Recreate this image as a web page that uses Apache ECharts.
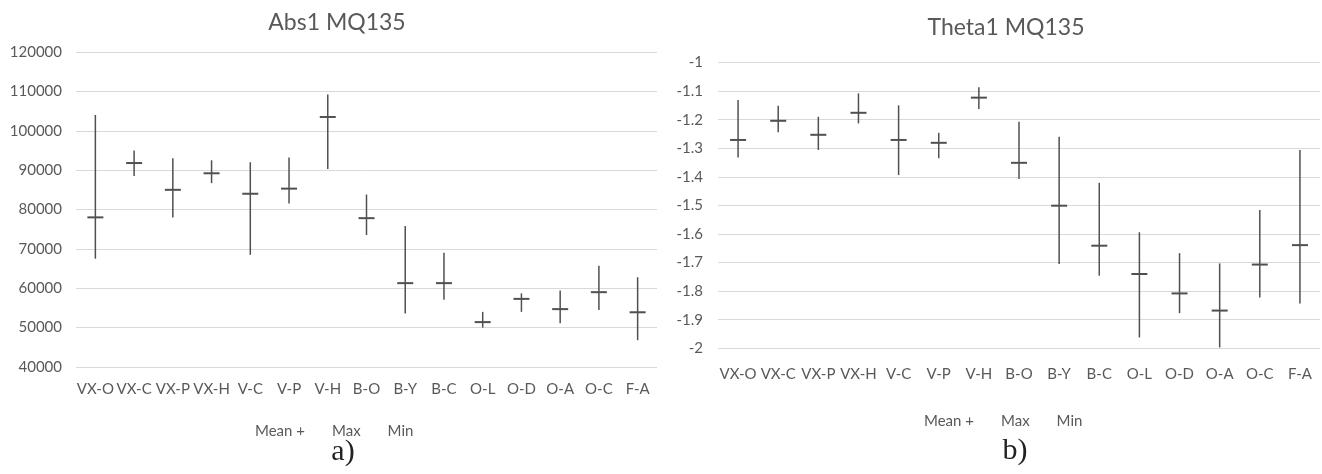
<!DOCTYPE html>
<html>
<head>
<meta charset="utf-8">
<script src="https://cdn.jsdelivr.net/npm/echarts@6/dist/echarts.min.js"></script>
<style>
html,body{margin:0;padding:0;background:#fff;}
#chart{width:1322px;height:474px;}
</style>
</head>
<body>
<div id="chart"></div>
<script>
// ---- data ----
const categories = ['VX-O','VX-C','VX-P','VX-H','V-C','V-P','V-H','B-O','B-Y','B-C','O-L','O-D','O-A','O-C','F-A'];
const absMean = [78000, 91800, 85000, 89200, 84000, 85300, 103500, 77800, 61300, 61300, 51400, 57300, 54700, 59000, 53900];
const absMax  = [104000, 95000, 93000, 92500, 92000, 93200, 109200, 83800, 75800, 69000, 54000, 58700, 59400, 65700, 62800];
const absMin  = [67500, 88500, 78000, 86700, 68500, 81500, 90300, 73500, 53600, 57100, 50000, 54000, 51100, 54500, 46800];
const thetaMean = [-1.271, -1.204, -1.253, -1.176, -1.271, -1.281, -1.123, -1.351, -1.501, -1.641, -1.740, -1.808, -1.868, -1.707, -1.639];
const thetaMax  = [-1.131, -1.151, -1.190, -1.108, -1.150, -1.246, -1.087, -1.207, -1.260, -1.421, -1.594, -1.667, -1.703, -1.516, -1.306];
const thetaMin  = [-1.332, -1.244, -1.306, -1.213, -1.394, -1.335, -1.163, -1.408, -1.705, -1.746, -1.962, -1.877, -1.997, -1.822, -1.843];
const legendNames = ['Mean +', 'Max', 'Min'];
const titles = ['Abs1 MQ135', 'Theta1 MQ135'];
const panelLabels = ['a)', 'b)'];

// ---- styles ----
const FONT = 'Lato';
const TXT = '#595959';
const GRID = '#d9d9d9';
const MARK = '#505050';

function meanTick(params, api) {
  const p = api.coord([api.value(0), api.value(1)]);
  return { type: 'line', shape: { x1: p[0] - 8, y1: p[1], x2: p[0] + 8, y2: p[1] },
           style: { stroke: MARK, lineWidth: 2 } };
}
function rangeLine(params, api) {
  const a = api.coord([api.value(0), api.value(1)]);
  const b = api.coord([api.value(0), api.value(2)]);
  return { type: 'line', shape: { x1: a[0], y1: a[1], x2: b[0], y2: b[1] },
           style: { stroke: MARK, lineWidth: 1.5 } };
}

function panelSeries(idx, mean, max, min) {
  return [
    { name: legendNames[0], type: 'custom', xAxisIndex: idx, yAxisIndex: idx,
      renderItem: meanTick, encode: { x: 0, y: 1 }, z: 3,
      data: categories.map((c, i) => [i, mean[i]]) },
    { name: legendNames[1], type: 'custom', xAxisIndex: idx, yAxisIndex: idx,
      renderItem: rangeLine, encode: { x: 0, y: [1, 2] },
      data: categories.map((c, i) => [i, mean[i], max[i]]) },
    { name: legendNames[2], type: 'custom', xAxisIndex: idx, yAxisIndex: idx,
      renderItem: rangeLine, encode: { x: 0, y: [1, 2] },
      data: categories.map((c, i) => [i, mean[i], min[i]]) }
  ];
}

function xAxisCfg(gridIndex, margin) {
  return {
    type: 'category', gridIndex, data: categories, boundaryGap: true,
    axisLine: { show: false }, axisTick: { show: false },
    axisLabel: { color: TXT, fontFamily: FONT, fontSize: 15, margin, interval: 0 },
    splitLine: { show: false }
  };
}
function yAxisCfg(gridIndex, min, max, interval, margin) {
  return {
    type: 'value', gridIndex, min, max, interval,
    axisLine: { show: false }, axisTick: { show: false },
    axisLabel: { color: TXT, fontFamily: FONT, fontSize: 15, margin,
                 formatter: v => String(v) },
    splitLine: { show: true, lineStyle: { color: GRID, width: 1 } }
  };
}
function legendCfg(left, top) {
  return {
    data: legendNames, left, top, orient: 'horizontal',
    icon: 'none', itemWidth: 0, itemHeight: 14, itemGap: 22,
    selectedMode: false,
    textStyle: { color: TXT, fontFamily: FONT, fontSize: 15 }
  };
}

const chart = echarts.init(document.getElementById('chart'), null, { renderer: 'canvas' });
chart.setOption({
  animation: false,
  backgroundColor: '#fff',
  grid: [
    { left: 76, right: 665, top: 52, bottom: 107 },
    { left: 718, right: 2, top: 62.5, bottom: 125.7 }
  ],
  xAxis: [xAxisCfg(0, 15), xAxisCfg(1, 18)],
  yAxis: [yAxisCfg(0, 40000, 120000, 10000, 14), yAxisCfg(1, -2, -1, 0.1, 15)],
  legend: [legendCfg(245, 419), legendCfg(914, 409)],
  series: [].concat(panelSeries(0, absMean, absMax, absMin),
                    panelSeries(1, thetaMean, thetaMax, thetaMin)),
  graphic: [
    { type: 'text', x: 337, y: 23, style: { text: titles[0], fill: TXT, font: '23px ' + FONT, textAlign: 'center', textVerticalAlign: 'middle' } },
    { type: 'text', x: 1006, y: 28, style: { text: titles[1], fill: TXT, font: '23px ' + FONT, textAlign: 'center', textVerticalAlign: 'middle' } },
    { type: 'text', x: 343, y: 452, style: { text: panelLabels[0], fill: '#222', font: '30px "Liberation Serif"', textAlign: 'center', textVerticalAlign: 'middle' } },
    { type: 'text', x: 1015, y: 451, style: { text: panelLabels[1], fill: '#222', font: '30px "Liberation Serif"', textAlign: 'center', textVerticalAlign: 'middle' } }
  ]
});
</script>
</body>
</html>
